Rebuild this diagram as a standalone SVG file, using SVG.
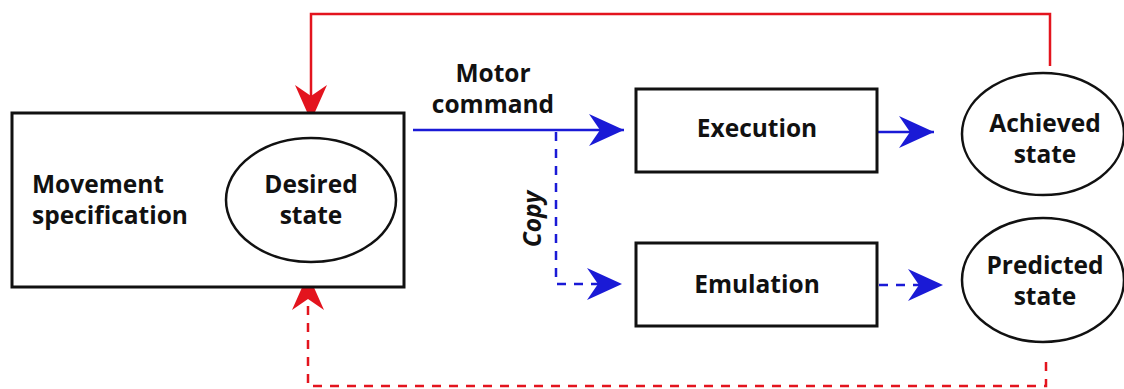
<svg xmlns="http://www.w3.org/2000/svg" width="1124" height="389" viewBox="0 0 1124 389">
<style>
.box{fill:#fff;stroke:#111;stroke-width:3}
.ell{fill:#fff;stroke:#111;stroke-width:2.5}
.t{font-family:"Open Sans","Liberation Sans",sans-serif;font-weight:bold;font-size:24.5px;fill:#111}
.m{text-anchor:middle}
.blue{stroke:#1a1ad6;stroke-width:2.5;fill:none}
.red{stroke:#e3141e;stroke-width:2.5;fill:none}
.dash{stroke-dasharray:9 8}
</style>
<defs>
<marker id="ab" markerUnits="userSpaceOnUse" markerWidth="40" markerHeight="40" refX="0" refY="0" orient="auto" overflow="visible" viewBox="-40 -20 40 40">
<path d="M0,0 L-35,-16 L-24,0 L-35,16 Z" fill="#1a1ad6"/>
</marker>
<marker id="ar" markerUnits="userSpaceOnUse" markerWidth="40" markerHeight="40" refX="0" refY="0" orient="auto" overflow="visible" viewBox="-40 -20 40 40">
<path d="M0,0 L-36,-16 L-25,0 L-36,16 Z" fill="#e3141e"/>
</marker>
</defs>
<g id="connectors">
<path class="red" d="M1050,66 V14 H311 V121" marker-end="url(#ar)"/>
<path class="red dash" d="M1046,362 V386 H308 V274" marker-end="url(#ar)"/>
<path class="blue" d="M413,130 H624" marker-end="url(#ab)"/>
<path class="blue dash" d="M556,132 V284 H622" marker-end="url(#ab)"/>
<path class="blue" d="M877,132 H934" marker-end="url(#ab)"/>
<path class="blue dash" d="M879,285 H943" marker-end="url(#ab)"/>
<text class="t m" x="493" y="82">Motor</text>
<text class="t m" x="493" y="113">command</text>
<text class="t m" transform="translate(541,219) rotate(-90)" font-style="italic" font-size="24">Copy</text>
</g>
<g id="movement">
<rect class="box" x="12" y="113" width="392" height="174"/>
<text class="t" x="32" y="193">Movement</text>
<text class="t" x="32" y="224">specification</text>
</g>
<g id="desired">
<ellipse class="ell" cx="311" cy="200" rx="85" ry="62"/>
<text class="t m" x="311" y="193">Desired</text>
<text class="t m" x="311" y="224">state</text>
</g>
<g id="execution">
<rect class="box" x="636" y="89" width="241" height="83"/>
<text class="t m" x="757" y="137">Execution</text>
</g>
<g id="emulation">
<rect class="box" x="636" y="243" width="241" height="83"/>
<text class="t m" x="757" y="293">Emulation</text>
</g>
<g id="achieved">
<ellipse class="ell" cx="1043" cy="134" rx="81" ry="61"/>
<text class="t m" x="1045" y="132">Achieved</text>
<text class="t m" x="1045" y="163">state</text>
</g>
<g id="predicted">
<ellipse class="ell" cx="1043" cy="280" rx="81" ry="62"/>
<text class="t m" x="1045" y="274">Predicted</text>
<text class="t m" x="1045" y="305">state</text>
</g>
</svg>
